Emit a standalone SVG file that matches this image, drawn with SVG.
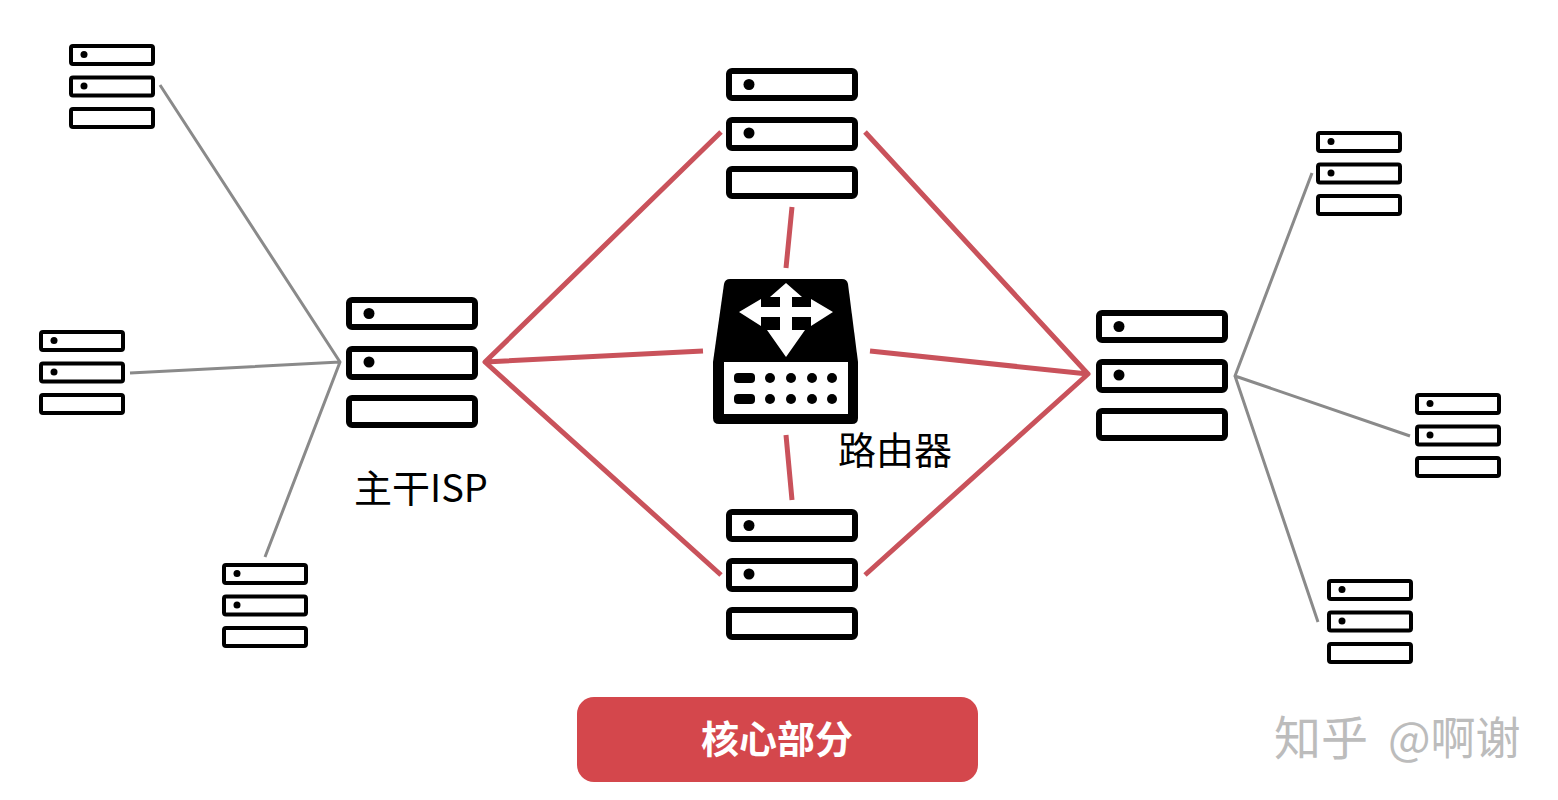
<svg xmlns="http://www.w3.org/2000/svg" width="1558" height="800" viewBox="0 0 1558 800">
<style>
.t{font-family:"Noto Sans CJK SC","Noto Sans",sans-serif}
.bar{fill:#fff;stroke:#000}
.big .bar{stroke-width:6}
.small .bar{stroke-width:4}
.red{stroke:#c9525b;stroke-width:5;fill:none;stroke-linejoin:round}
.gray{stroke:#8a8a8a;stroke-width:3;fill:none;stroke-linejoin:round}
</style>
<defs>
<g id="srvL" class="big">
<rect class="bar" x="3" y="3" width="126" height="27" rx="3"/>
<rect class="bar" x="3" y="52" width="126" height="28" rx="3"/>
<rect class="bar" x="3" y="101" width="126" height="27" rx="3"/>
<circle cx="23" cy="16.500" r="5.500"/>
<circle cx="23" cy="65" r="5.500"/>
</g>
<g id="srvS" class="small">
<rect class="bar" x="2" y="2" width="82" height="18" rx="2"/>
<rect class="bar" x="2" y="33.500" width="82" height="18" rx="2"/>
<rect class="bar" x="2" y="65" width="82" height="18" rx="2"/>
<circle cx="15" cy="10.500" r="3.500"/>
<circle cx="15" cy="42" r="3.500"/>
</g>
</defs>
<rect width="1558" height="800" fill="#fff"/>
<g id="connectors">
<path class="red" d="M721 132L485 362L703 351M485 362L721 575"/>
<path class="red" d="M865 132L1088 374L870 351M1088 374L865 575"/>
<path class="red" d="M792 207L786 268M786 435L792 500"/>
<path class="gray" d="M160 85L340 362L130 373M340 362L265 557"/>
<path class="gray" d="M1312 173L1235 376L1410 436M1235 376L1318 622"/>
</g>
<g id="isp-left"><use href="#srvL" x="346" y="297"/></g>
<g id="core-top"><use href="#srvL" x="726" y="68"/></g>
<g id="core-bottom"><use href="#srvL" x="726" y="509"/></g>
<g id="isp-right"><use href="#srvL" x="1096" y="310"/></g>
<g id="host-l1"><use href="#srvS" x="69" y="44"/></g>
<g id="host-l2"><use href="#srvS" x="39" y="330"/></g>
<g id="host-l3"><use href="#srvS" x="222" y="563"/></g>
<g id="host-r1"><use href="#srvS" x="1316" y="131"/></g>
<g id="host-r2"><use href="#srvS" x="1415" y="393"/></g>
<g id="host-r3"><use href="#srvS" x="1327" y="579"/></g>
<g id="router">
<path d="M730 279H842Q847 279 848 284L858 362V418Q858 424 852 424H719Q713 424 713 418V362L724 284Q725 279 730 279Z"/>
<polygon fill="#fff" points="786,283 802,297 792,297 792,307 811,307 811,299 833,312 811,326 811,317 792,317 792,330 805,330 786,357 767,330 780,330 780,317 761,317 761,326 739,312 761,299 761,307 780,307 780,297 770,297"/>
<rect x="724" y="362" width="124" height="52" fill="#fff"/>
<rect x="734" y="373" width="21" height="10" rx="4"/>
<rect x="734" y="394" width="21" height="10" rx="4"/>
<g><circle cx="770" cy="378" r="5"/><circle cx="791" cy="378" r="5"/><circle cx="812" cy="378" r="5"/><circle cx="832" cy="378" r="5"/>
<circle cx="770" cy="399" r="5"/><circle cx="791" cy="399" r="5"/><circle cx="812" cy="399" r="5"/><circle cx="832" cy="399" r="5"/></g>
</g>
<text class="t" x="895" y="464" font-size="38" text-anchor="middle">路由器</text>
<text class="t" x="354" y="502" font-size="38">主干ISP</text>
<g id="core-label">
<rect x="577" y="697" width="401" height="85" rx="17" fill="#d4474c"/>
<text class="t" x="777" y="753" font-size="38" font-weight="700" fill="#fff" text-anchor="middle">核心部分</text>
</g>
<text class="t" y="755" fill="#bcbcbc"><tspan x="1274" font-size="47">知乎</tspan><tspan x="1388" font-size="45">@啊谢</tspan></text>
</svg>
